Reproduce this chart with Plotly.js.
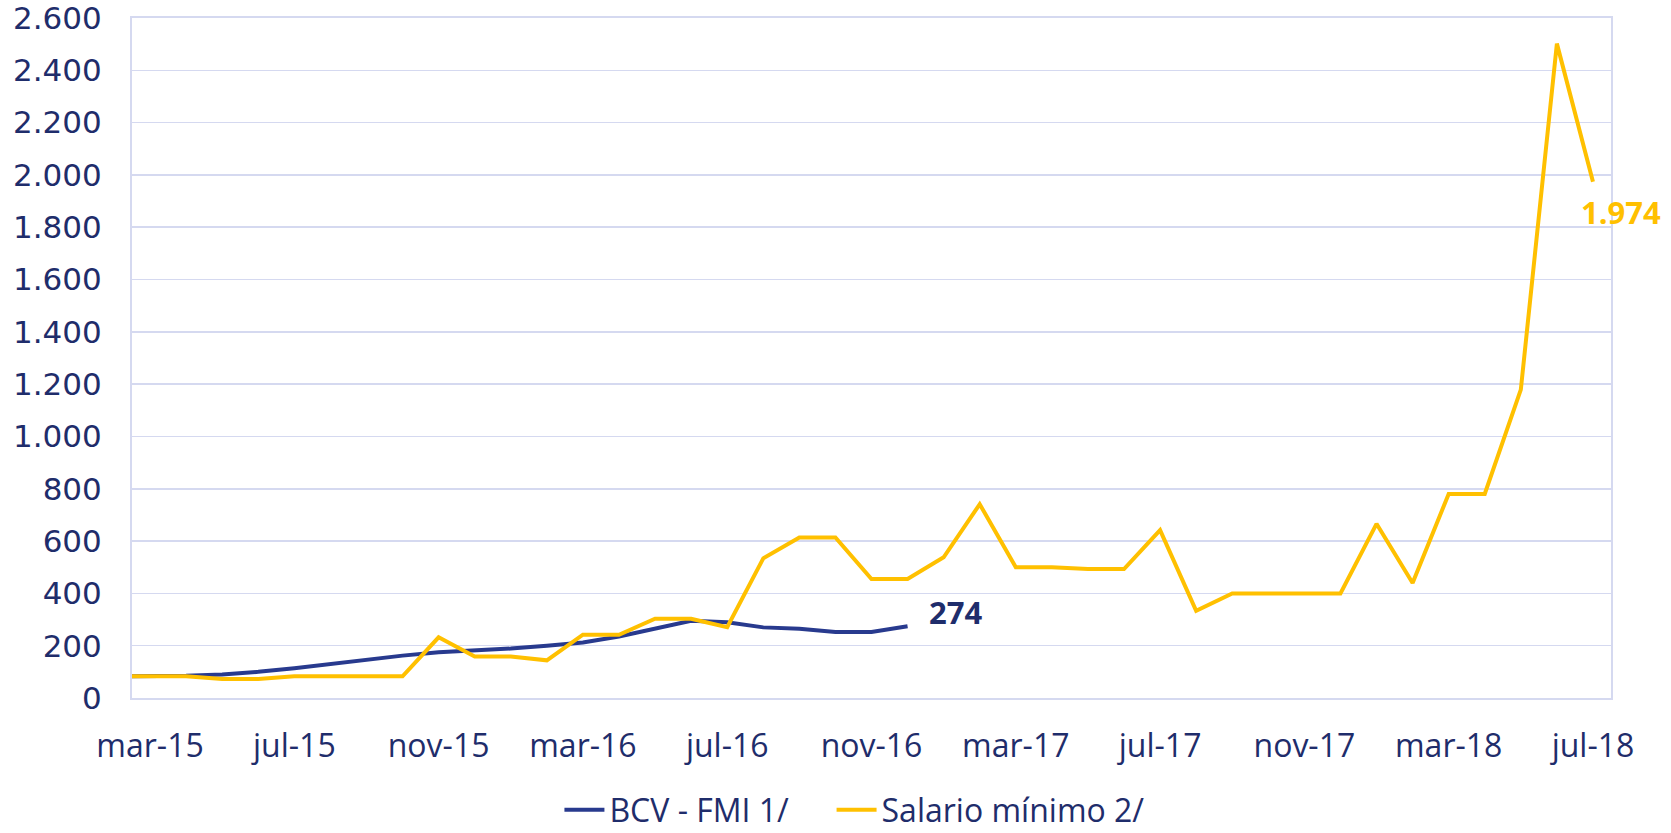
<!DOCTYPE html>
<html>
<head>
<meta charset="utf-8">
<script src="https://cdn.plot.ly/plotly-3.0.1.min.js"></script>
<style>
  html, body { margin: 0; padding: 0; background: #ffffff; }
  #chart { width: 1671px; height: 833px; }
</style>
</head>
<body>
<div id="chart"></div>
<script>
// Months (feb-15 is only the line's lead-in at the left edge)
const months = ['feb-15','mar-15','abr-15','may-15','jun-15','jul-15','ago-15','sep-15','oct-15','nov-15','dic-15',
  'ene-16','feb-16','mar-16','abr-16','may-16','jun-16','jul-16','ago-16','sep-16','oct-16','nov-16','dic-16',
  'ene-17','feb-17','mar-17','abr-17','may-17','jun-17','jul-17','ago-17','sep-17','oct-17','nov-17','dic-17',
  'ene-18','feb-18','mar-18','abr-18','may-18','jun-18','jul-18'];

const bcvMonths = months.slice(0, 23); // feb-15 .. dic-16
const bcvFmi = [83, 83, 85, 90, 100, 114, 131, 147, 162, 175, 182, 189, 200, 212, 235, 264, 295, 290, 270, 265, 252, 252, 274];

const salarioMinimo = [83, 83, 83, 73, 73, 83, 83, 83, 83, 232, 159, 159, 144, 242, 242, 303, 303, 271, 534, 614, 614,
  455, 455, 538, 741, 500, 500, 493, 493, 642, 333, 400, 400, 400, 400, 666, 440, 780, 780, 1179, 2502, 1974];

const tickMonths = ['mar-15','jul-15','nov-15','mar-16','jul-16','nov-16','mar-17','jul-17','nov-17','mar-18','jul-18'];
const yTicks = [0, 200, 400, 600, 800, 1000, 1200, 1400, 1600, 1800, 2000, 2200, 2400, 2600];

const seriesNames = ['BCV - FMI 1/', 'Salario mínimo 2/'];

const NAVY = '#1f2d6b';
const BLUE = '#283a8e';
const GOLD = '#ffc000';
const GRID = '#d5d9f0';

function fmtThousands(v) {
  return String(Math.round(v)).replace(/\B(?=(\d{3})+(?!\d))/g, '.');
}

const traces = [
  {
    type: 'scatter', mode: 'lines', name: seriesNames[0],
    x: bcvMonths, y: bcvFmi,
    line: { color: BLUE, width: 4, shape: 'linear' },
    legend: 'legend',
    hoverinfo: 'skip'
  },
  {
    type: 'scatter', mode: 'lines', name: seriesNames[1],
    x: months, y: salarioMinimo,
    line: { color: GOLD, width: 4, shape: 'linear' },
    legend: 'legend2',
    hoverinfo: 'skip'
  }
];

const lastBcvIdx = bcvFmi.length - 1;
const lastSalIdx = salarioMinimo.length - 1;

const legendFont = { family: 'Open Sans, sans-serif', size: 32, color: NAVY };

const layout = {
  width: 1671, height: 833,
  margin: { l: 132, r: 60, t: 18, b: 135, autoexpand: false },
  paper_bgcolor: '#ffffff', plot_bgcolor: '#ffffff',
  separators: ',.',
  showlegend: true,
  legend: {
    orientation: 'h',
    x: 0.289, xanchor: 'left',
    y: -0.1647, yanchor: 'middle',
    bgcolor: 'rgba(0,0,0,0)',
    font: legendFont,
    itemwidth: 40
  },
  legend2: {
    orientation: 'h',
    x: 0.473, xanchor: 'left',
    y: -0.1647, yanchor: 'middle',
    bgcolor: 'rgba(0,0,0,0)',
    font: legendFont,
    itemwidth: 40
  },
  xaxis: {
    type: 'category',
    categoryorder: 'array', categoryarray: months,
    range: [0.5, months.length - 0.5],
    tickmode: 'array', tickvals: tickMonths, ticktext: tickMonths,
    showgrid: false, zeroline: false,
    showline: true, linecolor: GRID, linewidth: 2, mirror: true,
    ticks: '', ticklabelstandoff: 19,
    tickfont: { family: 'Open Sans, sans-serif', size: 32, color: NAVY },
    fixedrange: true
  },
  yaxis: {
    range: [0, 2600],
    tickmode: 'array', tickvals: yTicks,
    tickformat: ',d',
    ticklabeloverflow: 'allow',
    showgrid: true, gridcolor: GRID, gridwidth: 1.5,
    zeroline: false,
    showline: true, linecolor: GRID, linewidth: 2, mirror: true,
    ticks: '', ticklabelstandoff: 22,
    tickfont: { family: 'DejaVu Sans, sans-serif', size: 31, color: NAVY },
    fixedrange: true
  },
  annotations: [
    {
      x: bcvMonths[lastBcvIdx], y: bcvFmi[lastBcvIdx], xref: 'x', yref: 'y',
      text: '<b>' + fmtThousands(bcvFmi[lastBcvIdx]) + '</b>',
      showarrow: false, xanchor: 'left', yanchor: 'middle',
      xshift: 19, yshift: 14,
      font: { family: 'Open Sans, sans-serif', size: 31, color: NAVY }
    },
    {
      x: months[lastSalIdx], y: salarioMinimo[lastSalIdx], xref: 'x', yref: 'y',
      text: '<b>' + fmtThousands(salarioMinimo[lastSalIdx]) + '</b>',
      showarrow: false, xanchor: 'left', yanchor: 'middle',
      xshift: -14, yshift: -30,
      font: { family: 'Open Sans, sans-serif', size: 31, color: GOLD }
    }
  ]
};

Plotly.newPlot('chart', traces, layout, { displayModeBar: false, staticPlot: true });
</script>
</body>
</html>
